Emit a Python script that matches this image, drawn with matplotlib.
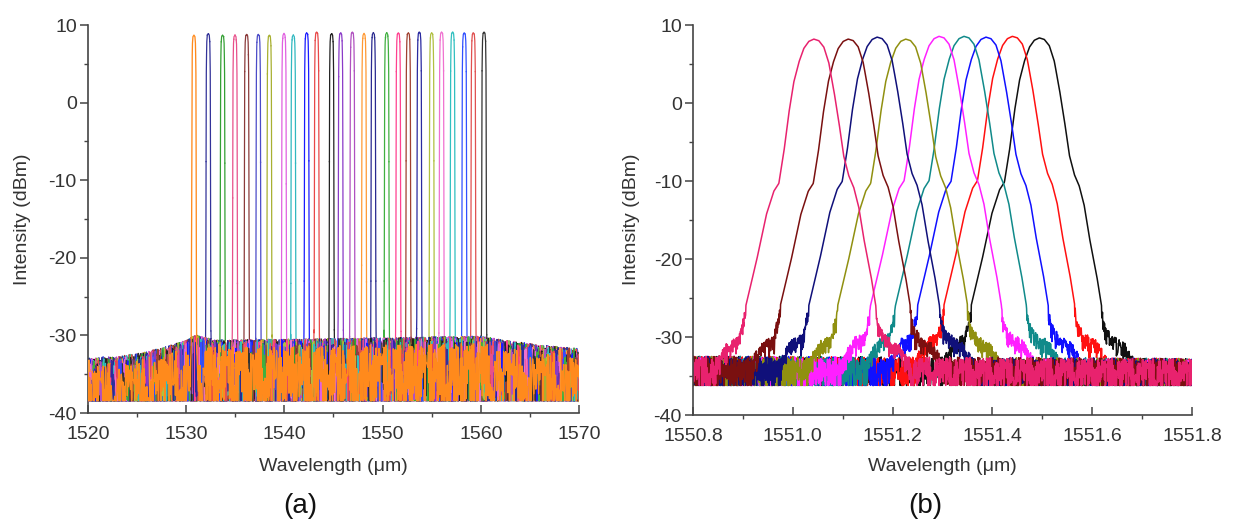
import matplotlib
matplotlib.use('Agg')
import matplotlib.pyplot as plt
import numpy as np
from matplotlib.ticker import MultipleLocator, FormatStrFormatter

plt.rcParams['font.family'] = ['Liberation Sans', 'DejaVu Sans']
plt.rcParams['axes.unicode_minus'] = False

# ---- panel (a): 26 channels, 1520-1570 nm ----
a_centers = [1530.79, 1532.25, 1533.71, 1534.97, 1536.16, 1537.35, 1538.47, 1539.96,
             1540.91, 1542.27, 1543.29, 1544.81, 1545.73, 1546.92, 1548.11, 1549.06,
             1550.42, 1551.60, 1552.62, 1553.74, 1555.00, 1556.01, 1557.13, 1558.32,
             1559.24, 1560.33]
a_peaks = [8.7, 8.9, 8.7, 8.7, 8.8, 8.8, 8.7, 8.9, 8.7, 9.0, 9.1, 8.9, 9.0,
           9.1, 8.9, 9.0, 9.0, 9.0, 9.0, 9.1, 9.0, 9.1, 9.1, 9.0, 9.0, 9.1]
a_colors = ['#ff8a1c', '#333399', '#33a033', '#e8508a', '#8b3a3a', '#4b4bc8', '#a8b030',
            '#e060e0', '#30b8c0', '#1a1aff', '#e84848', '#222222', '#8a3ac8', '#b050c0',
            '#ff9933', '#2a2a90', '#40b040', '#ff4090', '#a04030', '#2a2aa0', '#b0c040',
            '#f070d0', '#30c0c0', '#3050ff', '#e05050', '#333333']
# channel shape (offset from centre, dBm for a 9 dBm peak)
a_prof_off = [-0.45, -0.30, -0.26, -0.24, -0.22, -0.20, -0.16, -0.10, 0.0,
              0.10, 0.16, 0.20, 0.22, 0.24, 0.26, 0.30, 0.45]
a_prof_db = [-60, -31, -28, -18, -4, 4, 7.8, 8.8, 9.0, 8.8, 7.8, 4, -4, -18, -28, -31, -60]
# noise floor: upper edge and flat lower edge
a_top_wl = [1520, 1523, 1526, 1528, 1530, 1531, 1533, 1540, 1550, 1560, 1563, 1566, 1570]
a_top_db = [-32.8, -32.6, -32.0, -31.3, -30.5, -29.8, -30.5, -30.4, -30.2, -30.0, -30.6, -31.1, -31.6]
a_floor = -38.4

# ---- panel (b): 9 channels, 1550.8-1551.8 nm ----
b_centers = [1551.042, 1551.111, 1551.169, 1551.226, 1551.293, 1551.343, 1551.387, 1551.440, 1551.494]
b_peaks = [8.2, 8.2, 8.45, 8.2, 8.55, 8.55, 8.45, 8.55, 8.35]
b_colors = ['#e8226e', '#7a1010', '#10107a', '#909010', '#ff20ff', '#108a8a', '#1010ff', '#ff1010', '#101010']
b_prof_off = [-0.25, -0.19, -0.17, -0.15, -0.13, -0.115, -0.095, -0.08, -0.07, -0.06, -0.05,
              -0.04, -0.03, -0.02, -0.01, 0.0, 0.01, 0.02, 0.03, 0.04, 0.05, 0.06, 0.07,
              0.08, 0.09, 0.10, 0.115, 0.13, 0.145, 0.17, 0.19, 0.25]
b_prof_db = [-60, -32, -30.0, -29.5, -24, -20, -14, -11, -10, -6, -1, 3, 5.5, 7.3, 8.2, 8.5,
             8.3, 7.5, 5.5, 2, -2, -6.5, -9, -10.5, -13, -17, -22, -28, -29.5, -30.5, -32.5, -60]
b_top_wl = [1550.8, 1551.3, 1551.8]
b_top_db = [-32.4, -32.5, -32.7]
b_floor = -36.2

# hand-read noise texture (fraction of floor depth) and amplitude modulation
noise_depth = [0.15, 0.62, 0.33, 1.00, 0.08, 0.45, 0.91, 0.27, 0.71, 0.12,
               0.55, 1.10, 0.38, 0.04, 0.83, 0.22, 0.66, 0.95, 0.18, 0.49,
               0.77, 0.31, 1.05, 0.10, 0.58, 0.26, 0.87, 0.41, 0.69, 0.02,
               0.52, 0.97, 0.35, 0.14, 0.79, 0.44, 1.12, 0.21, 0.60, 0.30,
               0.90, 0.06, 0.48, 0.73, 0.17, 1.00, 0.39, 0.64, 0.11, 0.85,
               0.28, 0.57, 0.93, 0.24, 0.43, 0.80, 0.09, 0.68, 0.36, 1.08, 0.19]
noise_scale = [1.0, 0.7, 1.25, 0.85, 1.1, 0.6, 1.3, 0.9, 0.75, 1.2, 0.95, 0.65, 1.15, 0.8, 1.05, 0.7, 1.3]


def spectrum(wl, i, c, peak, off, prof, top_wl, top_db, floor, span, shift=0.0):
    j = np.arange(wl.size)
    d = np.array(noise_depth)[(j * (7 + 2 * i) + 11 * i) % len(noise_depth)]
    d = d * np.array(noise_scale)[(j * 5 + 3 * i) % len(noise_scale)]
    top = np.interp(wl, top_wl, top_db) + shift
    noise = np.maximum(top - d * span, floor)
    p = np.interp(wl - c, off, prof, left=-60, right=-60) + (peak - max(prof))
    p = np.where(p < -26, p - d * 2.0, p)
    return np.maximum(p, noise)


def style(ax):
    for s in ['top', 'right']:
        ax.spines[s].set_visible(False)
    for s in ['left', 'bottom']:
        ax.spines[s].set_color('#444444')
        ax.spines[s].set_linewidth(1.2)
    ax.set_ylim(-40, 10)
    ax.yaxis.set_major_locator(MultipleLocator(10))
    ax.yaxis.set_minor_locator(MultipleLocator(5))
    ax.tick_params(axis='y', which='major', direction='out', length=6, width=1.1,
                   colors='#444444', labelcolor='#333333', labelsize=14, pad=2)
    ax.tick_params(axis='y', which='minor', direction='out', length=3, width=1.0, colors='#444444')
    ax.tick_params(axis='x', which='major', direction='in', length=6, width=1.1,
                   colors='#444444', labelcolor='#333333', labelsize=14, pad=9)
    ax.tick_params(axis='x', which='minor', direction='out', length=3, width=1.0, colors='#444444')


fig = plt.figure(figsize=(12.34, 5.27), dpi=100)
ax1 = fig.add_axes([0.0713, 0.2163, 0.3979, 0.7362])
ax2 = fig.add_axes([0.5616, 0.2125, 0.4044, 0.740])

# panel (a): the other channels are drawn in short pieces whose stacking order
# changes along the axis, so their noise shows as mixed streaks under the orange one
wl_a = np.linspace(1520, 1570, 900)
wl_a = np.sort(np.concatenate([wl_a, np.concatenate(
    [c + np.linspace(-0.3, 0.3, 25) for c in a_centers])]))
piece = 7
n_others = len(a_centers) - 1
for i in range(1, len(a_centers)):
    y = spectrum(wl_a, i, a_centers[i], a_peaks[i], a_prof_off, a_prof_db,
                 a_top_wl, a_top_db, a_floor, 9.0)
    for k, s in enumerate(range(0, wl_a.size - 1, piece)):
        z = 2 + ((i * 7 + k * 11) % n_others) / n_others
        ax1.plot(wl_a[s:s + piece + 1], y[s:s + piece + 1], color=a_colors[i], lw=0.9, zorder=z)
y0 = spectrum(wl_a, 0, a_centers[0], a_peaks[0], a_prof_off, a_prof_db,
              a_top_wl, a_top_db, a_floor, 8.0, -0.9)
ax1.plot(wl_a, y0, color=a_colors[0], lw=0.95, zorder=3.5)
ax1.set_xlim(1520, 1570)
ax1.xaxis.set_major_locator(MultipleLocator(10))
ax1.xaxis.set_minor_locator(MultipleLocator(5))
style(ax1)

# panel (b)
wl_b = np.linspace(1550.8, 1551.8, 1500)
for i in reversed(range(len(b_centers))):
    y = spectrum(wl_b, i, b_centers[i], b_peaks[i], b_prof_off, b_prof_db,
                 b_top_wl, b_top_db, b_floor, 4.2)
    ax2.plot(wl_b, y, color=b_colors[i], lw=1.1)
ax2.set_xlim(1550.8, 1551.8)
ax2.xaxis.set_major_locator(MultipleLocator(0.2))
ax2.xaxis.set_minor_locator(MultipleLocator(0.1))
ax2.xaxis.set_major_formatter(FormatStrFormatter('%.1f'))
style(ax2)

# labels
fig.text(0.018, 0.584, 'Intensity (dBm)', rotation=90, ha='center', va='center', fontsize=14, color='#333333')
fig.text(0.512, 0.584, 'Intensity (dBm)', rotation=90, ha='center', va='center', fontsize=14, color='#333333')
fig.text(0.270, 0.114, 'Wavelength (μm)', ha='center', va='center', fontsize=14, color='#333333')
fig.text(0.764, 0.114, 'Wavelength (μm)', ha='center', va='center', fontsize=14, color='#333333')
fig.text(0.243, 0.040, '(a)', ha='center', va='center', fontsize=20, color='#111111')
fig.text(0.750, 0.040, '(b)', ha='center', va='center', fontsize=20, color='#111111')

fig.savefig('out.png', dpi=100)
